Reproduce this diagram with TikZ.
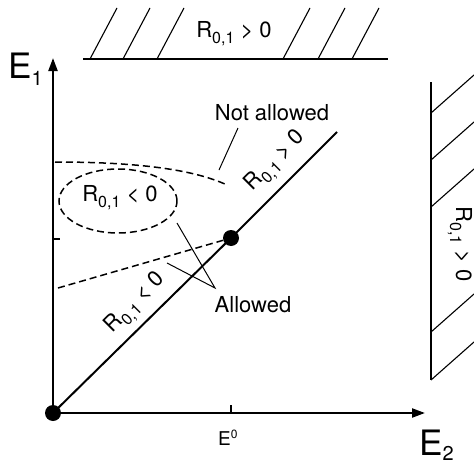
\documentclass[tikz,border=0pt]{standalone}
\usepackage{fontspec}
\setmainfont{TeX Gyre Heros}
\usetikzlibrary{arrows.meta,shapes.geometric}
\newcommand\Rsub{R\raisebox{-6pt}{\fontsize{16}{16}\selectfont 0,1}}
\begin{document}
\begin{tikzpicture}[x=1pt,y=-1pt,
  axis/.style={line width=2.2pt,-{Triangle[length=13pt,width=9pt]}},
  diag/.style={line width=2pt},
  hatch/.style={line width=1.1pt},
  dashline/.style={line width=1.5pt,dash pattern=on 7pt off 4pt},
  pointer/.style={line width=1pt},
  lbl/.style={font=\fontsize{22}{26}\selectfont,inner sep=0pt},
  biglbl/.style={font=\fontsize{35}{40}\selectfont,inner sep=0pt},
  dot/.style={circle,fill=black,inner sep=0pt,minimum size=16pt}]
\useasboundingbox (0,0) rectangle (474,463);
% dots and axes
\node[dot] (O) at (53,413) {};
\node[dot] (P) at (231,238) {};
\coordinate (Ytip) at (53,58);
\coordinate (Xtip) at (425,413);
\coordinate (Dend) at (337,132);
\draw[axis] (O.center) -- (Ytip);
\draw[axis] (O.center) -- (Xtip);
\draw[diag] (O.center) -- (P.center) -- (Dend);
% ticks
\draw[line width=1.2pt] (231,413) -- (231,405);
\draw[line width=1.2pt] (53,239) -- (60,239);
% axis labels
\node[biglbl,anchor=base west] (E1) at (8,78) {E\raisebox{-7pt}{\fontsize{20}{20}\selectfont 1}};
\node[biglbl,anchor=base west] (E2) at (419,455) {E\raisebox{-5pt}{\fontsize{20}{20}\selectfont 2}};
\node[font=\fontsize{19}{22}\selectfont,inner sep=0pt,anchor=base west] (E0) at (218,445) {E\raisebox{7pt}{\fontsize{12}{12}\selectfont 0}};
% top hatched boundary
\draw[hatch] (83,59) -- (388,59);
\foreach \x in {90,123,157,283,318,352}
  \draw[hatch] (\x,59) -- (\x+27,8);
\node[lbl] (Rtop) at (234,34) {\Rsub{} > 0};
% right hatched boundary
\draw[hatch] (431,82) -- (431,380);
\foreach \y in {113,160,207,332,380}
  \draw[hatch] (431,\y) -- (474,\y-38);
\node[lbl,rotate=-90] (Rright) at (460,244) {\Rsub{} > 0};
% diagonal labels
\node[lbl,rotate=45] (Rlow) at (136,304) {\Rsub{} < 0};
\node[lbl,rotate=45] (Rup) at (276,162) {\Rsub{} > 0};
% dashed boundaries
\draw[dashline] (55,162) .. controls (140,162) and (195,170) .. (227,185);
\draw[dashline] (58,288) -- (P);
\node[dashline,draw,ellipse,minimum width=118pt,minimum height=64pt,inner sep=0pt] (ell) at (118,201) {};
\node[lbl] (Rin) at (120,198) {\Rsub{} < 0};
% annotations
\node[lbl] (NA) at (272,113) {Not allowed};
\coordinate (NAa) at (238,128);
\coordinate (NAb) at (219,170);
\draw[pointer] (NAa) -- (NAb);
\node[lbl] (AL) at (253,305) {Allowed};
\coordinate (ALj) at (215,288);
\coordinate (ALa) at (177,223);
\coordinate (ALb) at (167,263);
\draw[pointer] (ALa) -- (ALj) -- (ALb);
\end{tikzpicture}
\end{document}
